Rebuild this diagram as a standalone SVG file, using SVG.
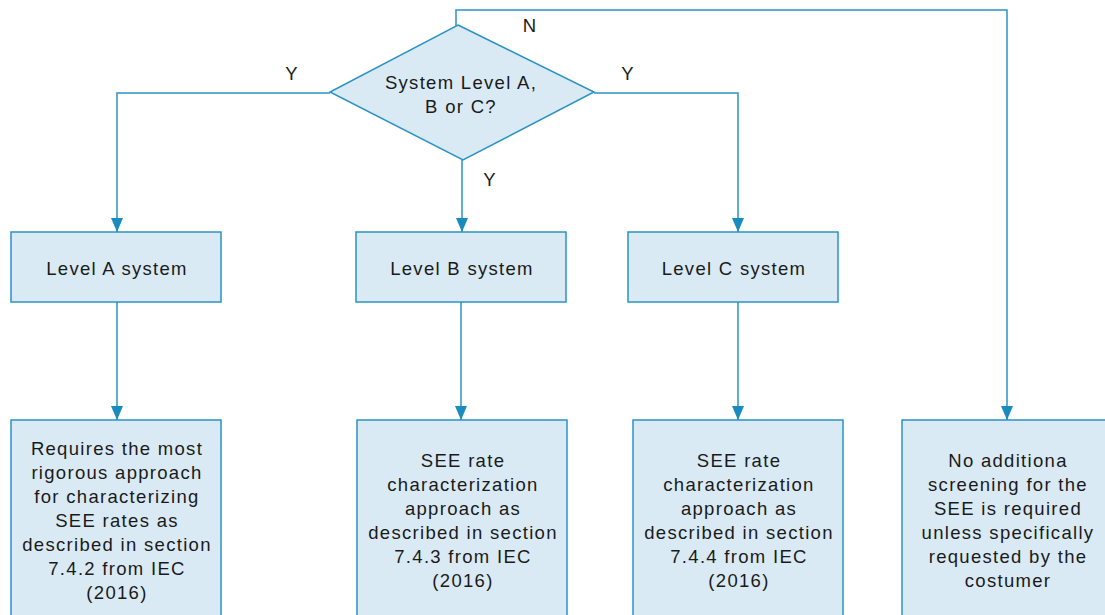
<svg xmlns="http://www.w3.org/2000/svg" width="1105" height="615" viewBox="0 0 1105 615">
<style>
.box{fill:#d9eaf5;stroke:#2a93c4;stroke-width:1.5}
.ln{fill:none;stroke:#2a93c4;stroke-width:1.5}
text{font-family:"Liberation Sans","DejaVu Sans",sans-serif;font-size:18.5px;letter-spacing:1.3px;fill:#1a1a1a;text-anchor:middle}
</style>
<defs>
<marker id="ah" viewBox="0 0 14 12" refX="14" refY="6" markerWidth="14" markerHeight="12" markerUnits="userSpaceOnUse" orient="auto">
<path d="M0,0 L14,6 L0,12 Z" fill="#1a8bbf"/>
</marker>
</defs>
<rect width="1105" height="615" fill="#fff"/>
<g id="connectors">
<polyline class="ln" points="456,30 456,10 1007,10 1007,420" marker-end="url(#ah)"/>
<polyline class="ln" points="330,93 117,93 117,232" marker-end="url(#ah)"/>
<polyline class="ln" points="594,93 738,93 738,232" marker-end="url(#ah)"/>
<line class="ln" x1="462" y1="160" x2="462" y2="232" marker-end="url(#ah)"/>
<line class="ln" x1="117" y1="302" x2="117" y2="420" marker-end="url(#ah)"/>
<line class="ln" x1="461" y1="302" x2="461" y2="420" marker-end="url(#ah)"/>
<line class="ln" x1="738" y1="302" x2="738" y2="420" marker-end="url(#ah)"/>
<text x="292" y="80">Y</text>
<text x="628" y="80">Y</text>
<text x="490" y="186">Y</text>
<text x="530" y="32">N</text>
</g>
<g id="decision">
<polygon class="box" points="458,25 594,92 463,160 330,92"/>
<text x="461" y="89">System Level A,</text>
<text x="461" y="113">B or C?</text>
</g>
<g id="levelA">
<rect class="box" x="11" y="232" width="210" height="70"/>
<text x="117" y="275">Level A system</text>
</g>
<g id="levelB">
<rect class="box" x="356" y="232" width="210" height="70"/>
<text x="462" y="275">Level B system</text>
</g>
<g id="levelC">
<rect class="box" x="628" y="232" width="210" height="70"/>
<text x="734" y="275">Level C system</text>
</g>
<g id="resultA">
<rect class="box" x="11" y="420" width="210" height="210"/>
<text x="117" y="455">Requires the most</text>
<text x="117" y="479">rigorous approach</text>
<text x="117" y="503">for characterizing</text>
<text x="117" y="527">SEE rates as</text>
<text x="117" y="551">described in section</text>
<text x="117" y="575">7.4.2 from IEC</text>
<text x="117" y="599">(2016)</text>
</g>
<g id="resultB">
<rect class="box" x="357" y="420" width="210" height="210"/>
<text x="463" y="467">SEE rate</text>
<text x="463" y="491">characterization</text>
<text x="463" y="515">approach as</text>
<text x="463" y="539">described in section</text>
<text x="463" y="563">7.4.3 from IEC</text>
<text x="463" y="587">(2016)</text>
</g>
<g id="resultC">
<rect class="box" x="633" y="420" width="210" height="210"/>
<text x="739" y="467">SEE rate</text>
<text x="739" y="491">characterization</text>
<text x="739" y="515">approach as</text>
<text x="739" y="539">described in section</text>
<text x="739" y="563">7.4.4 from IEC</text>
<text x="739" y="587">(2016)</text>
</g>
<g id="resultD">
<rect class="box" x="902" y="420" width="220" height="210"/>
<text x="1008" y="467">No additiona</text>
<text x="1008" y="491">screening for the</text>
<text x="1008" y="515">SEE is required</text>
<text x="1008" y="539">unless specifically</text>
<text x="1008" y="563">requested by the</text>
<text x="1008" y="587">costumer</text>
</g>
</svg>
